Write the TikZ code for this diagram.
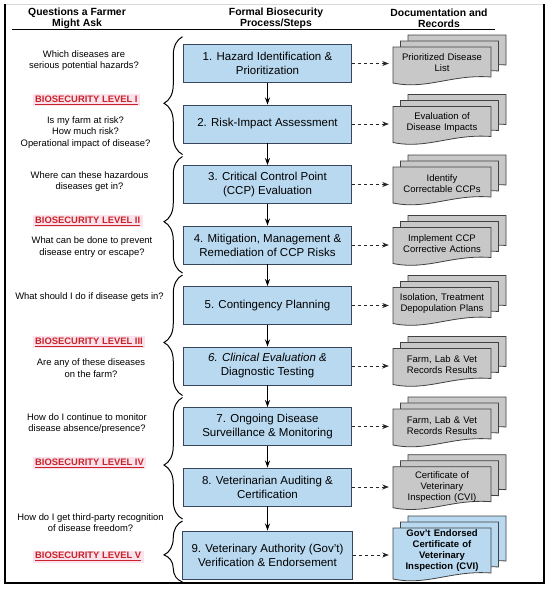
\documentclass[tikz,border=0pt]{standalone}
\usepackage{fontspec}
\setmainfont{Liberation Sans}
\usetikzlibrary{arrows.meta,decorations.pathreplacing,calc}

\definecolor{boxblue}{RGB}{185,217,240}
\definecolor{boxline}{RGB}{55,70,90}
\definecolor{docgray}{RGB}{200,200,200}
\definecolor{docline}{RGB}{65,65,65}
\definecolor{levred}{RGB}{200,35,40}
\definecolor{levpink}{RGB}{252,226,236}

\tikzset{
 stepbox/.style={draw=boxline, fill=boxblue, line width=0.9pt, minimum width=168pt, minimum height=38pt, align=center, font=\fontsize{11.5}{14}\selectfont, inner sep=0pt},
 question/.style={align=center, font=\fontsize{9.4}{11.4}\selectfont, inner sep=0pt},
 level/.style={anchor=west, fill=levpink, text=levred, font=\bfseries\fontsize{9.4}{11}\selectfont, inner xsep=2.5pt, inner ysep=1.5pt},
 header/.style={align=center, font=\bfseries\fontsize{10.4}{11.7}\selectfont, inner sep=0pt},
 doctext/.style={align=center, font=\fontsize{9.5}{11}\selectfont, inner xsep=2pt, inner ysep=0pt, text width=94pt},
 docshape/.style={draw=docline, line width=0.8pt},
 flow/.style={-{Stealth[length=7pt,width=5pt]}, line width=1.2pt},
 dasharrow/.style={-{Stealth[length=6.5pt,width=5pt,inset=2pt]}, line width=0.8pt, dash pattern=on 3.5pt off 2.5pt, draw=black!85, shorten >=4pt},
 bracestyle/.style={decorate, line width=1pt}
}

% #1 top, #2 height, #3 fill
\newcommand{\mydocs}[3]{%
 \foreach \dx/\dy in {15/-12, 7.5/-6, 0/0} {
   \filldraw[docshape, fill=#3] (393+\dx,#1+\dy) -- (491+\dx,#1+\dy) -- (491+\dx,#1+\dy+#2-6)
     .. controls (393+\dx+58.8,#1+\dy+#2-9) and (393+\dx+34.3,#1+\dy+#2+7) .. (393+\dx,#1+\dy+#2) -- cycle;
 }%
}

\begin{document}
\begin{tikzpicture}[x=1pt,y=-1pt]
\useasboundingbox (0,0) rectangle (550,590);

% frame
\draw[gray!30, line width=0.8pt] (5,4) -- (544,4);
\draw[line width=2pt] (5,4) -- (5,583) -- (544,583) -- (544,4);

% headers
\node[header] (h1) at (77,18.2) {Questions a Farmer\\Might Ask};
\node[header] (h2) at (276,18.2) {Formal Biosecurity\\Process/Steps};
\node[header] (h3) at (439,18.2) {Documentation and\\Records};
\draw[line width=1pt] (12,29.5) -- (495,29.5);

% braces
\draw[bracestyle, decoration={brace, amplitude=18.5pt, aspect=0.435}] (182.5,154.5) -- (182.5,36.7);
\draw[bracestyle, decoration={brace, amplitude=18.5pt, aspect=0.44}] (182.5,273) -- (182.5,156.5);
\draw[bracestyle, decoration={brace, amplitude=18.5pt, aspect=0.44}] (182.5,395.5) -- (182.5,275);
\draw[bracestyle, decoration={brace, amplitude=18.5pt, aspect=0.444}] (182.5,519) -- (182.5,397.5);
\draw[bracestyle, decoration={brace, amplitude=18.5pt, aspect=0.444}] (182.5,582) -- (182.5,521);

% questions
\node[question] (q1) at (84,60.3) {Which diseases are\\serious potential hazards?};
\node[question] (q2) at (85.5,132.3) {Is my farm at risk?\\How much risk?\\Operational impact of disease?};
\node[question] (q3) at (89.5,181.3) {Where can these hazardous\\diseases get in?};
\node[question] (q4) at (92,247.2) {What can be done to prevent\\disease entry or escape?};
\node[question] (q5) at (89.5,296.7) {What should I do if disease gets in?};
\node[question] (q6) at (91,368.3) {Are any of these diseases\\on the farm?};
\node[question] (q7) at (87,423.5) {How do I continue to monitor\\disease absence/presence?};
\node[question] (q8) at (90.5,522.5) {How do I get third-party recognition\\of disease freedom?};

% levels
\node[level] (l1) at (32.5,100) {\underline{BIOSECURITY LEVEL I}};
\node[level] (l2) at (32.5,221) {\underline{BIOSECURITY LEVEL II}};
\node[level] (l3) at (32.5,342) {\underline{BIOSECURITY LEVEL III}};
\node[level] (l4) at (32.5,463) {\underline{BIOSECURITY LEVEL IV}};
\node[level] (l5) at (32.5,556.7) {\underline{BIOSECURITY LEVEL V}};

% steps
\node[stepbox] (s1) at (267.5,63.5) {1. Hazard Identification \&\\Prioritization};
\node[stepbox] (s2) at (267.5,124) {2. Risk-Impact Assessment};
\node[stepbox] (s3) at (267.5,184.5) {3. Critical Control Point\\(CCP) Evaluation};
\node[stepbox] (s4) at (267.5,245) {4. Mitigation, Management \&\\Remediation of CCP Risks};
\node[stepbox] (s5) at (267.5,305.5) {5. Contingency Planning};
\node[stepbox] (s6) at (267.5,366) {\textit{6. Clinical Evaluation \&}\\Diagnostic Testing};
\node[stepbox] (s7) at (267.5,426.5) {7. Ongoing Disease\\Surveillance \& Monitoring};
\node[stepbox] (s8) at (267.5,487) {8. Veterinarian Auditing \&\\Certification};
\node[stepbox, minimum width=170pt, minimum height=48pt] (s9) at (267.5,555) {9. Veterinary Authority (Gov’t)\\Verification \& Endorsement};

\foreach \a/\b in {s1/s2,s2/s3,s3/s4,s4/s5,s5/s6,s6/s7,s7/s8,s8/s9}
  \draw[flow] (\a.south) -- (\b.north);

% documents
\mydocs{47}{36}{docgray}
\node[doctext] (d1) at (442,62.5) {Prioritized Disease\\List};
\mydocs{106.5}{36}{docgray}
\node[doctext] (d2) at (442,123) {Evaluation of\\Disease Impacts};
\mydocs{167}{36}{docgray}
\node[doctext] (d3) at (442,183.5) {Identify\\Correctable CCPs};
\mydocs{227.5}{36}{docgray}
\node[doctext] (d4) at (442,244) {Implement CCP\\Corrective Actions};
\mydocs{287.5}{36}{docgray}
\node[doctext] (d5) at (442,303.5) {Isolation, Treatment\\Depopulation Plans};
\mydocs{348.5}{36}{docgray}
\node[doctext] (d6) at (442,365) {Farm, Lab \& Vet\\Records Results};
\mydocs{409}{36}{docgray}
\node[doctext] (d7) at (442,425.5) {Farm, Lab \& Vet\\Records Results};
\mydocs{466.7}{41}{docgray}
\node[doctext] (d8) at (442,487) {Certificate of\\Veterinary\\Inspection (CVI)};
\mydocs{528}{51}{boxblue}
\node[doctext, font=\bfseries\fontsize{9.5}{11}\selectfont] (d9) at (442,551) {Gov’t Endorsed\\Certificate of\\Veterinary\\Inspection (CVI)};

\foreach \i in {1,...,9}
  \draw[dasharrow] (s\i.east) -- (s\i.east -| d\i.west);

\end{tikzpicture}
\end{document}
